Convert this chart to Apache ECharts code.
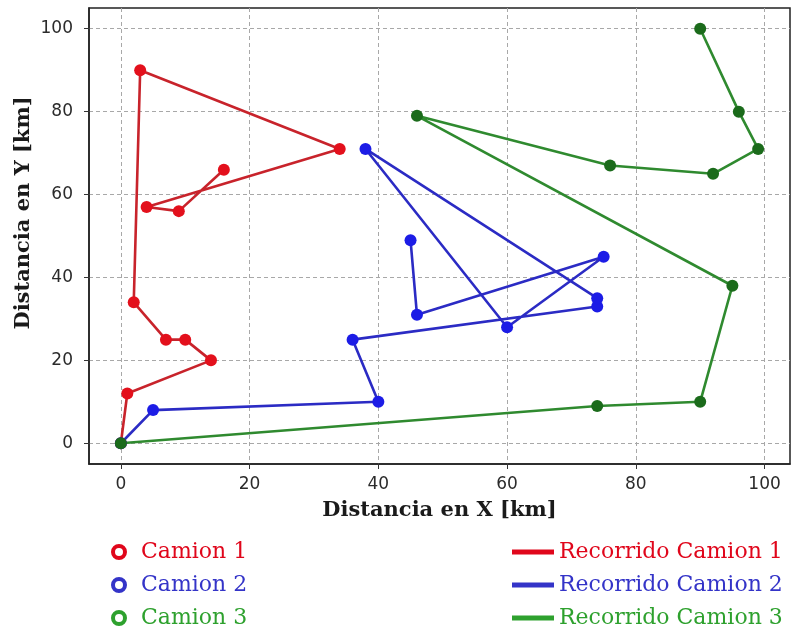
<!DOCTYPE html>
<html>
<head>
<meta charset="utf-8">
<script src="https://cdn.jsdelivr.net/npm/echarts@6/dist/echarts.min.js"></script>
<style>
html,body{margin:0;padding:0;background:#fff;}
#chart{width:794px;height:633px;}
</style>
</head>
<body>
<div id="chart"></div>
<script>
// Route of each truck, in visiting order [x, y] (km)
const camion1 = [[0,0],[1,12],[14,20],[10,25],[7,25],[2,34],[3,90],[34,71],[4,57],[9,56],[16,66]];
const camion2 = [[0,0],[5,8],[40,10],[36,25],[74,33],[74,35],[38,71],[60,28],[75,45],[46,31],[45,49]];
const camion3 = [[0,0],[74,9],[90,10],[95,38],[46,79],[76,67],[92,65],[99,71],[96,80],[90,100]];

const xTicks = [0,20,40,60,80,100];
const yTicks = [0,20,40,60,80,100];

const pointNames = ['Camion 1','Camion 2','Camion 3'];
const routeNames = ['Recorrido Camion 1','Recorrido Camion 2','Recorrido Camion 3'];

const markerColors = ['#e3101c','#1c1ce6','#1b6b1b'];
const lineColors = ['#c8232b','#2b2bc4','#2f8a2f'];
const legendColors = ['#e0061b','#3434c8','#2ea12e'];

const routes = [camion1, camion2, camion3];

const tickFont = {fontFamily:'DejaVu Sans', fontSize:17, color:'#2b2b2b'};
const titleFont = {fontFamily:'DejaVu Serif', fontWeight:'bold', fontSize:21, color:'#1a1a1a'};

const series = [];
routes.forEach((r,i)=>{
  series.push({
    name: routeNames[i], type:'line', data:r, showSymbol:false, symbol:'none',
    lineStyle:{color:lineColors[i], width:2.6}, itemStyle:{color:lineColors[i]},
    z:5, animation:false, silent:true, clip:false
  });
});
routes.forEach((r,i)=>{
  series.push({
    name: pointNames[i], type:'scatter', data:r, symbol:'circle', symbolSize:12,
    itemStyle:{color:markerColors[i], opacity:1}, z:6, animation:false
  });
});

const legendText = {fontFamily:'DejaVu Serif', fontSize:22};

const option = {
  backgroundColor:'#fff',
  animation:false,
  grid:{left:89, right:4, top:8, bottom:169, show:true, borderColor:'#222', borderWidth:1.5},
  xAxis:{
    type:'value', min:-4.95, max:103.95,
    name:'Distancia en X [km]', nameLocation:'middle', nameGap:36, nameTextStyle:titleFont,
    axisLine:{show:true, onZero:false, lineStyle:{color:'#222', width:1.5}},
    axisTick:{show:true, inside:false, length:5, customValues:xTicks, lineStyle:{color:'#333'}},
    axisLabel:Object.assign({customValues:xTicks, margin:12}, tickFont),
    splitLine:{show:true, lineStyle:{color:'#a8a8a8', type:[4,3], width:1}}
  },
  yAxis:{
    type:'value', min:-5, max:105,
    axisLine:{show:true, onZero:false, lineStyle:{color:'#222', width:1.5}},
    axisTick:{show:true, inside:false, length:5, customValues:yTicks, lineStyle:{color:'#333'}},
    axisLabel:Object.assign({customValues:yTicks, margin:16}, tickFont),
    splitLine:{show:true, lineStyle:{color:'#a8a8a8', type:[4,3], width:1}}
  },
  graphic:[{
    type:'text', x:24, y:213, rotation:Math.PI/2,
    style:Object.assign({text:'Distancia en Y [km]', align:'center', verticalAlign:'middle',
      fill:titleFont.color, font:'bold 21px "DejaVu Serif"'}),
    silent:true
  }],
  legend:[
    {
      orient:'vertical', left:111, top:541, padding:0, itemGap:11, itemWidth:34, itemHeight:12,
      textStyle:legendText, selectedMode:false,
      data: pointNames.map((n,i)=>({name:n, icon:'circle',
        itemStyle:{color:'#fff', borderColor:legendColors[i], borderWidth:4},
        textStyle:{color:legendColors[i]}}))
    },
    {
      orient:'vertical', left:512, top:541, padding:0, itemGap:11, itemWidth:42, itemHeight:5,
      textStyle:legendText, selectedMode:false,
      data: routeNames.map((n,i)=>({name:n, icon:'rect',
        itemStyle:{color:legendColors[i], borderWidth:0},
        textStyle:{color:legendColors[i]}}))
    }
  ],
  series: series
};

const chart = echarts.init(document.getElementById('chart'), null, {renderer:'canvas'});
chart.setOption(option);
</script>
</body>
</html>
